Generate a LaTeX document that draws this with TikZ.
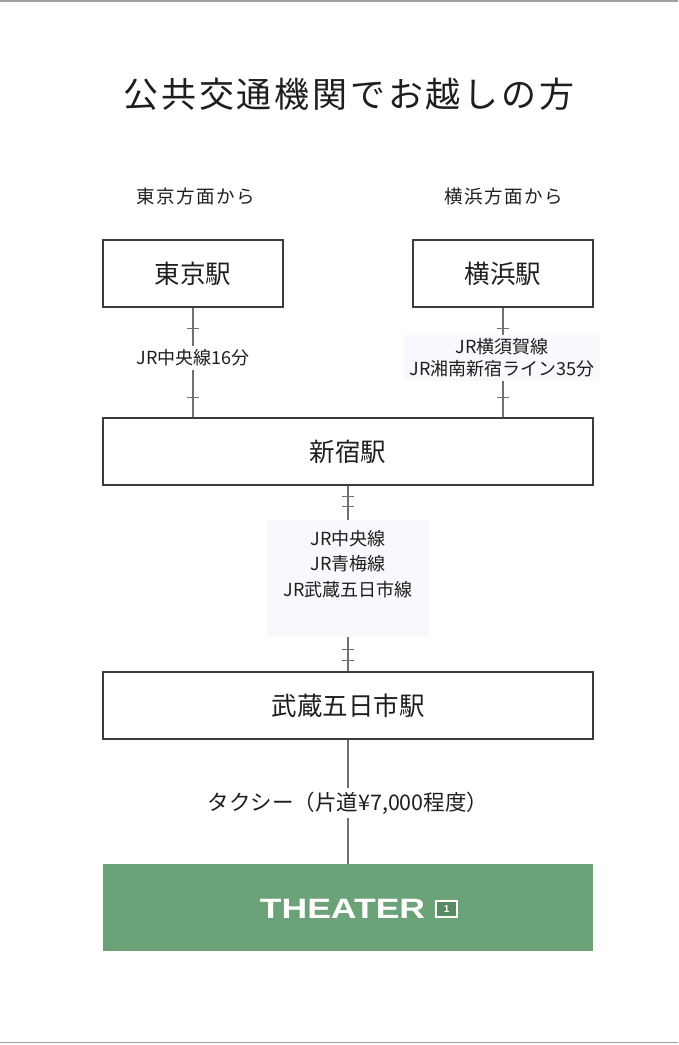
\documentclass[tikz,border=0pt]{standalone}
\usepackage{fontspec}
\setmainfont{Noto Sans CJK JP}
\newfontfamily\spacedfont{Noto Sans CJK JP}[LetterSpace=8]
\newfontfamily\logofont{Liberation Sans}
\usetikzlibrary{positioning,decorations.markings}
\definecolor{linegray}{RGB}{112,112,112}
\definecolor{boxgray}{RGB}{60,60,60}
\definecolor{textblack}{RGB}{30,30,30}
\definecolor{labelbg}{RGB}{247,249,252}
\definecolor{theatergreen}{RGB}{107,162,120}
\definecolor{icongreen}{RGB}{88,138,100}
\definecolor{framegray}{RGB}{160,160,160}
\tikzset{
  station/.style={draw=boxgray, line width=1.2pt, minimum width=180pt, minimum height=67pt,
    text=textblack, font=\fontsize{25.5}{30}\selectfont},
  widestation/.style={station, minimum width=490pt},
  linelabel/.style={fill=white, inner sep=4pt, align=center, text=textblack,
    font=\fontsize{18}{22}\selectfont},
  tickline/.style={draw=linegray, line width=1.3pt},
  rail/.style={draw=linegray, line width=1.3pt, postaction={decorate, decoration={markings,
    mark=at position 21pt with {\draw[tickline] (0,-6pt) -- (0,6pt);},
    mark=at position -20pt with {\draw[tickline] (0,-6pt) -- (0,6pt);}}}},
  doublerail/.style={draw=linegray, line width=1.3pt, postaction={decorate, decoration={markings,
    mark=at position 11pt with {\draw[tickline] (0,-6pt) -- (0,6pt);},
    mark=at position 21pt with {\draw[tickline] (0,-6pt) -- (0,6pt);},
    mark=at position -22pt with {\draw[tickline] (0,-6pt) -- (0,6pt);},
    mark=at position -11pt with {\draw[tickline] (0,-6pt) -- (0,6pt);}}}},
  road/.style={draw=linegray, line width=1.3pt}
}
\begin{document}
\begin{tikzpicture}[x=1pt,y=-1pt]
\useasboundingbox (0,0) rectangle (678,1045);
\draw[framegray, line width=1.5pt] (0,0.75) -- (678,0.75);
\draw[framegray, line width=1.5pt] (0,1042.5) -- (678,1042.5);
\node[text=textblack, font=\spacedfont\fontsize{35}{40}\selectfont] (title) at (349,94) {公共交通機関でお越しの方};
\node[text=textblack, font=\spacedfont\fontsize{18.5}{22}\selectfont] (fromtokyo) at (196,196) {東京方面から};
\node[text=textblack, font=\spacedfont\fontsize{18.5}{22}\selectfont] (fromyokohama) at (504,196) {横浜方面から};
% stations
\node[station] (tokyo) at (193,273.5) {東京駅};
\node[station] (yokohama) at (503,273.5) {横浜駅};
\node[widestation] (shinjuku) at (348,451.5) {新宿駅};
\node[widestation] (musashi) at (348,705.5) {武蔵五日市駅};
\node[fill=theatergreen, minimum width=490pt, minimum height=87pt] (theater) at (348,907.5) {};
\node[text=white, inner sep=0pt, font=\logofont\fontsize{28}{30}\selectfont\bfseries] (logo) at (342.5,909) {\scalebox{1.27}[1]{THEATER}};
\node[draw=white, line width=1.6pt, fill=icongreen, minimum width=21pt, minimum height=16pt, inner sep=0pt,
  text=white, font=\logofont\fontsize{10}{10}\selectfont\bfseries, right=10pt of logo] (logoicon) {1};
% lines
\draw[rail] (tokyo.south) -- (tokyo.south |- shinjuku.north);
\draw[rail] (yokohama.south) -- (yokohama.south |- shinjuku.north);
\draw[doublerail] (shinjuku) -- (musashi);
\draw[road] (musashi) -- (theater);
% line labels
\node[linelabel] (chuo) at (193,358) {JR中央線16分};
\node[linelabel, fill=labelbg, inner xsep=5pt, inner ysep=4pt] (yokosuka) at (502,358) {JR横須賀線\\JR湘南新宿ライン35分};
\node[linelabel, fill=labelbg, anchor=north, inner xsep=16pt, inner ysep=10pt, text depth=31pt,
  font=\fontsize{18}{25.5}\selectfont] (ome) at (348,520) {JR中央線\\JR青梅線\\JR武蔵五日市線};
\node[linelabel, font=\fontsize{21.5}{24}\selectfont] (taxi) at (348,803) {タクシー（片道¥7,000程度）};
\end{tikzpicture}
\end{document}
